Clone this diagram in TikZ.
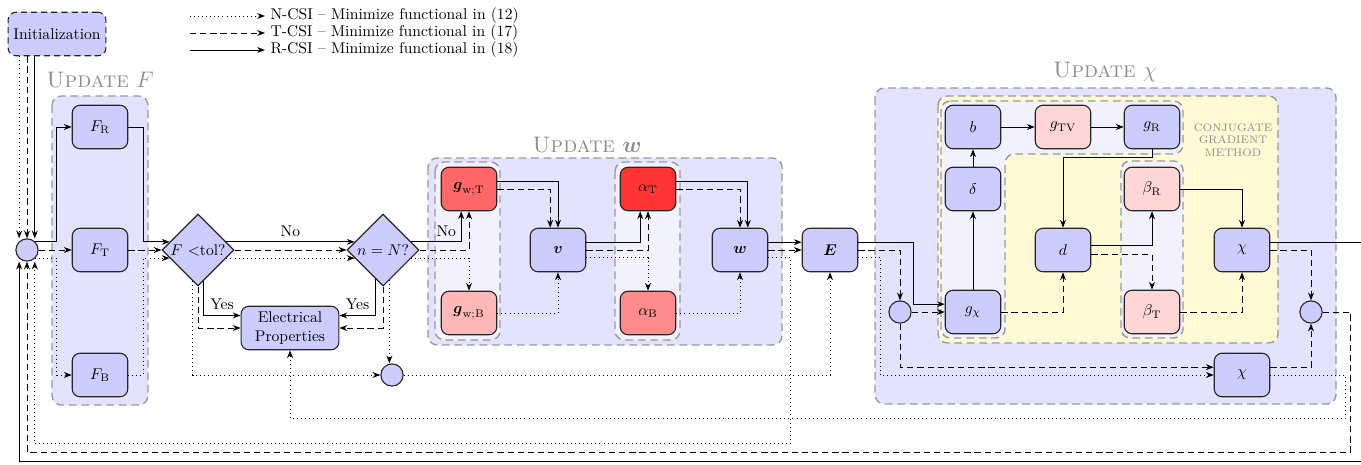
\documentclass[tikz,border=0pt]{standalone}
\usepackage{amsmath,amssymb}
\usepackage{tikz}
\usetikzlibrary{shapes.geometric,arrows.meta,calc}
\usepackage{xcolor}
\definecolor{cgback}{RGB}{255,250,212}
\def\lgap{5pt}
\tikzset{
blk/.style={rectangle,rounded corners=5pt,draw=black!85,line width=0.7pt,fill=blue!20,
  minimum width=1.25cm,minimum height=0.98cm,align=center},
blkwide/.style={blk,minimum width=2.2cm},
decbox/.style={diamond,draw=black!85,line width=0.7pt,fill=blue!20,inner sep=0pt,
  minimum width=1.62cm,minimum height=1.62cm},
junc/.style={circle,draw=black!85,line width=0.7pt,fill=blue!20,inner sep=0pt,minimum size=0.5cm},
grp/.style={rounded corners=6pt,draw=black!40,line width=0.9pt,dash pattern=on 5pt off 3pt,fill=blue!11},
subgrp/.style={grp,fill=blue!5},
cggrp/.style={grp,fill=cgback},
grptitle/.style={text=black!45,font=\Large},
rarr/.style={-{Stealth[length=5pt,width=3.8pt]},line width=0.6pt},
tarr/.style={rarr,dash pattern=on 4pt off 2.5pt},
narr/.style={rarr,dotted}
}

\begin{document}
\begin{tikzpicture}[x=0.0225cm,y=-0.0225cm]
\useasboundingbox (0,0) rectangle (1361,464);

% group frames
\draw[grp] (52,96) rectangle (148,405);
\node[grptitle] (tF) at (100,80) {\textsc{Update} $F$};
\draw[grp] (428,158) rectangle (782,345);
\draw[subgrp] (435,162) rectangle (500,340);
\draw[subgrp] (615,162) rectangle (680,340);
\node[grptitle] (tw) at (587,145) {\textsc{Update} $\boldsymbol{w}$};
\draw[grp] (875,88) rectangle (1336,404);
\draw[cggrp] (938,96) rectangle (1278,343);
\draw[subgrp] (941,101) -- (1183,101) -- (1183,154) -- (1005,154) -- (1005,338) -- (941,338) -- cycle;
\draw[subgrp] (1121,161) rectangle (1183,338);
\node[grptitle] (tchi) at (1105,72) {\textsc{Update} $\chi$};
\node[font=\scriptsize,text=black!45,align=center] (cglbl) at (1233,140) {CONJUGATE\\GRADIENT\\METHOD};

% legend
\node[anchor=west] (lg1) at (265,16) {N-CSI -- Minimize functional in (12)};
\node[anchor=west] (lg2) at (265,33) {T-CSI -- Minimize functional in (17)};
\node[anchor=west] (lg3) at (265,50) {R-CSI -- Minimize functional in (18)};
\coordinate (lg1s) at (190,16);
\coordinate (lg2s) at (190,33);
\coordinate (lg3s) at (190,50);
\draw[narr] (lg1s) -- (lg1.west);
\draw[tarr] (lg2s) -- (lg2.west);
\draw[rarr] (lg3s) -- (lg3.west);

% nodes
\node[blkwide,dash pattern=on 4pt off 2.5pt] (init) at (57,34) {Initialization};
\node[junc] (jin) at (27,250) {};
\node[blk] (fr) at (100,127) {$F_{\mathrm{R}}$};
\node[blk] (ft) at (100,250) {$F_{\mathrm{T}}$};
\node[blk] (fb) at (100,375) {$F_{\mathrm{B}}$};
\node[decbox] (tolF) at (198,250) {$F$ <tol?};
\node[decbox] (nN) at (383,250) {$n=N$?};
\node[blkwide] (elec) at (290,328) {Electrical\\Properties};
\node[junc] (jmid) at (392,375) {};
\node[blk,fill=red!60] (gwt) at (469,189) {$\boldsymbol{g}_{\mathrm{w;T}}$};
\node[blk,fill=red!28] (gwb) at (469,313) {$\boldsymbol{g}_{\mathrm{w;B}}$};
\node[blk] (vv) at (558,250) {$\boldsymbol{v}$};
\node[blk,fill=red!80] (at) at (648,189) {$\alpha_{\mathrm{T}}$};
\node[blk,fill=red!45] (ab) at (648,313) {$\alpha_{\mathrm{B}}$};
\node[blk] (ww) at (740,250) {$\boldsymbol{w}$};
\node[blk] (ee) at (830,250) {$\boldsymbol{E}$};
\node[junc] (jcl) at (900,312) {};
\node[blk] (bb) at (973,127) {$b$};
\node[blk,fill=red!16] (gtv) at (1063,127) {$g_{\mathrm{TV}}$};
\node[blk] (grr) at (1152,127) {$g_{\mathrm{R}}$};
\node[blk] (dl) at (973,189) {$\delta$};
\node[blk] (gchi) at (973,312) {$g_{\chi}$};
\node[blk] (dd) at (1063,250) {$d$};
\node[blk,fill=red!16] (bR) at (1152,189) {$\beta_{\mathrm{R}}$};
\node[blk,fill=red!16] (bT) at (1152,312) {$\beta_{\mathrm{T}}$};
\node[blk] (chi) at (1242,250) {$\chi$};
\node[junc] (jcr) at (1311,312) {};
\node[blk] (chib) at (1242,375) {$\chi$};

% initialization into the loop
\draw[narr] ([xshift=-\lgap]jin.north |- init.south) -- ([xshift=-\lgap]jin.north);
\draw[tarr] (jin.north |- init.south) -- (jin.north);
\draw[rarr] ([xshift=\lgap]jin.north |- init.south) -- ([xshift=\lgap]jin.north);

% update F
\draw[rarr] (jin.45) -| ($(fr.west)+(-15,0)$) -- (fr.west);
\draw[tarr] (jin) -- (ft);
\draw[narr] (jin.-45) -| ($(fb.west)+(-15,0)$) -- (fb.west);
\draw[rarr] (fr.east) -| ($(tolF.164)+(-26,0)$) -- (tolF.164);
\draw[tarr] (ft) -- (tolF);
\draw[narr] (fb.east) -| ($(tolF.196)+(-26,0)$) -- (tolF.196);

% stopping tests
\draw[rarr] (tolF.16) -- node[above]{No} (nN.164);
\draw[tarr] (tolF) -- (nN);
\draw[narr] (tolF.-16) -- (nN.196);
\draw[rarr] (tolF.-80) |- node[pos=.75,above]{Yes} ([yshift=8pt]elec.west);
\draw[tarr] (tolF.south) |- (elec.west);
\draw[narr] (tolF.-100) |- (jmid.west);
\draw[rarr] (nN.-104) |- node[pos=.75,above]{Yes} ([yshift=8pt]elec.east);
\draw[tarr] (nN.south) |- (elec.east);
\draw[narr] (nN.-78) -- (nN.-78 |- jmid.north);

% update w
\draw[rarr] (nN.16) -| node[pos=.35,above]{No} ([xshift=-\lgap]gwt.south);
\draw[tarr] (nN.east) -| (gwt.south);
\draw[narr] (nN.-16) -| (gwb.north);
\draw[rarr] ([yshift=\lgap]gwt.east) -| (vv.north);
\draw[tarr] (gwt.east) -| ([xshift=-\lgap]vv.north);
\draw[narr] (gwb.east) -| (vv.south);
\draw[rarr] ([yshift=\lgap]vv.east) -| ([xshift=-\lgap]at.south);
\draw[tarr] (vv.east) -| (at.south);
\draw[narr] ([yshift=-\lgap]vv.east) -| (ab.north);
\draw[rarr] ([yshift=\lgap]at.east) -| ([xshift=\lgap]ww.north);
\draw[tarr] (at.east) -| (ww.north);
\draw[narr] (ab.east) -| (ww.south);
\draw[rarr] ([yshift=\lgap]ww.east) -- ([yshift=\lgap]ee.west);
\draw[tarr] (ww) -- (ee);
\draw[narr] ([yshift=-\lgap]ww.east) -- ++(22,0) -- ++(0,186) -| ([xshift=\lgap]jin.south);
\draw[narr] (jmid.east) -| (ee.south);

% update chi
\draw[rarr] ([yshift=\lgap]ee.east) -- ++(55,0) |- ([yshift=\lgap]gchi.west);
\draw[tarr] (ee.east) -| (jcl.north);
\draw[narr] ([yshift=-\lgap]ee.east) -- ++(22,0) |- (chib.west);
\draw[tarr] (jcl.south) |- ([yshift=\lgap]chib.west);
\draw[tarr] (jcl) -- (gchi);
\draw[rarr] (gchi) -- (dl);
\draw[rarr] (dl) -- (bb);
\draw[rarr] (bb) -- (gtv);
\draw[rarr] (gtv) -- (grr);
\draw[rarr] (grr.south) -- ++(0,8) -| (dd.north);
\draw[rarr] ([yshift=3pt]dd.east) -| (bR.south);
\draw[tarr] ([yshift=-3pt]dd.east) -| (bT.north);
\draw[tarr] (gchi.east) -| (dd.south);
\draw[rarr] (bR.east) -| (chi.north);
\draw[tarr] (bT.east) -| (chi.south);
\draw[tarr] (chi.east) -| (jcr.north);
\draw[tarr] ([yshift=\lgap]chib.east) -| (jcr.south);

% feedback
\draw[rarr] ([yshift=\lgap]chi.east) -- ++(110,0) -- ++(0,219) -| ([xshift=-\lgap]jin.south);
\draw[tarr] (jcr.east) -- ++(28,0) -- ++(0,140) -| (jin.south);
\draw[narr] (chib.east) -- ++(75,0) -- ++(0,43) -| (elec.south);
\end{tikzpicture}
\end{document}
